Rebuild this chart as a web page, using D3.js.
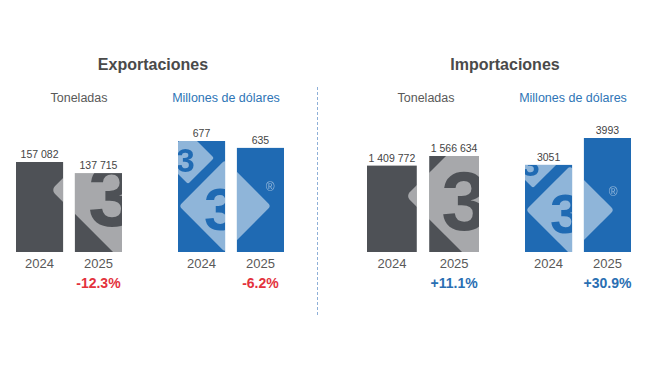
<!DOCTYPE html>
<html>
<head>
<meta charset="utf-8">
<script src="https://cdn.jsdelivr.net/npm/d3@7"></script>
<style>
  html, body { margin: 0; padding: 0; background: #ffffff; }
  svg { display: block; font-family: "Liberation Sans", Arial, sans-serif; }
</style>
</head>
<body>
<div id="chart"></div>
<script>
// ---- data ----
const groups = ["Exportaciones", "Importaciones"];
const units = ["Toneladas", "Millones de dólares"];
const years = ["2024", "2025"];
const expTons = [157082, 137715];
const expUsd = [677, 635];
const impTons = [1409772, 1566634];
const impUsd = [3051, 3993];
const changes = ["-12.3%", "-6.2%", "+11.1%", "+30.9%"];

// ---- styles ----
const W = 650, H = 366;
const GRAY = "#4e5156", BLUE = "#1f6ab3", RED = "#e3323d", CHANGE_BLUE = "#2a6fb3";
const TXT = "#595959", VAL = "#444444", TITLE = "#4a4a4a", UNIT_BLUE = "#2e75b6";
const baseY = 252;

const panels = [
  { values: expTons, unit: 0, change: changes[0], x0: 16, x1: 122, maxPx: 90, color: GRAY, changeColor: RED, unitX: 79,
    wm: [{ dx: 103, dy: -62, h: 68, reg: false }] },
  { values: expUsd, unit: 1, change: changes[1], x0: 178, x1: 284, maxPx: 111, color: BLUE, changeColor: RED, unitX: 226,
    wm: [{ dx: 47, dy: -46, h: 46, reg: true }, { dx: 10, dy: -94, h: 26, reg: false }] },
  { values: impTons, unit: 0, change: changes[2], x0: 367, x1: 479, maxPx: 96, color: GRAY, changeColor: CHANGE_BLUE, unitX: 426,
    wm: [{ dx: 104, dy: -56, h: 65, reg: false }] },
  { values: impUsd, unit: 1, change: changes[3], x0: 525, x1: 631, maxPx: 114, color: BLUE, changeColor: CHANGE_BLUE, unitX: 573,
    wm: [{ dx: 45, dy: -42, h: 44, reg: true }, { dx: 8, dy: -90, h: 26, reg: false }] }
];
const titleX = [153, 505];

const fmt = v => v >= 10000 ? d3.format(",")(v).replace(/,/g, " ") : String(v);

const svg = d3.select("#chart").append("svg").attr("width", W).attr("height", H);
svg.append("rect").attr("width", W).attr("height", H).attr("fill", "#fff");
const defs = svg.append("defs");

// titles
svg.selectAll("text.title").data(groups).join("text")
  .attr("class", "title")
  .attr("x", (d, i) => titleX[i]).attr("y", 70)
  .attr("text-anchor", "middle")
  .attr("font-size", 16).attr("font-weight", "bold").attr("fill", TITLE)
  .text(d => d);

// divider
svg.append("line").attr("x1", 317.5).attr("x2", 317.5).attr("y1", 87).attr("y2", 317)
  .attr("stroke", "#8fb0d8").attr("stroke-width", 1).attr("stroke-dasharray", "3,2");

panels.forEach((p, pi) => {
  const x = d3.scaleBand().domain(years).range([p.x0, p.x1]).paddingInner(0.2).paddingOuter(0);
  const y = d3.scaleLinear().domain([0, d3.max(p.values)]).range([baseY, baseY - p.maxPx]);
  const data = years.map((yr, i) => ({ yr, v: p.values[i] }));
  const g = svg.append("g");

  // unit subtitle
  g.append("text").attr("x", p.unitX).attr("y", 102).attr("text-anchor", "middle")
    .attr("font-size", 12.5).attr("fill", p.unit === 0 ? TXT : UNIT_BLUE)
    .text(units[p.unit]);

  // bars
  g.selectAll("rect.bar").data(data).join("rect")
    .attr("class", "bar")
    .attr("x", d => x(d.yr)).attr("width", x.bandwidth())
    .attr("y", d => y(d.v)).attr("height", d => y(0) - y(d.v))
    .attr("fill", p.color);

  // clip for watermark
  const clip = defs.append("clipPath").attr("id", "clip" + pi);
  clip.selectAll("rect").data(data).join("rect")
    .attr("x", d => x(d.yr)).attr("width", x.bandwidth())
    .attr("y", d => y(d.v)).attr("height", d => y(0) - y(d.v));

  // watermark mask
  const mask = defs.append("mask").attr("id", "mask" + pi)
    .attr("maskUnits", "userSpaceOnUse").attr("x", 0).attr("y", 0).attr("width", W).attr("height", H);
  mask.append("rect").attr("width", W).attr("height", H).attr("fill", "black");
  p.wm.forEach(w => {
    const cx = p.x0 + w.dx, cy = baseY + w.dy, s = w.h * Math.SQRT2;
    mask.append("rect")
      .attr("x", -s / 2).attr("y", -s / 2).attr("width", s).attr("height", s)
      .attr("rx", w.h * 0.08)
      .attr("transform", `translate(${cx},${cy}) rotate(45)`)
      .attr("fill", "white");
    const fs = w.h * 1.28;
    mask.append("text")
      .attr("x", cx - w.h * 0.1).attr("y", cy + w.h * 0.07 + fs * 0.358)
      .attr("text-anchor", "middle").attr("font-size", fs).attr("font-weight", "bold")
      .attr("font-family", "'Liberation Sans', Arial, sans-serif")
      .attr("fill", "black").text("3");
    if (w.reg) {
      mask.append("text")
        .attr("x", cx + w.h * 0.98).attr("y", cy - w.h * 0.42 + 4)
        .attr("text-anchor", "middle").attr("font-size", 12)
        .attr("fill", "white").text("®");
    }
  });
  g.append("rect").attr("width", W).attr("height", H)
    .attr("fill", "white").attr("fill-opacity", 0.5)
    .attr("mask", `url(#mask${pi})`).attr("clip-path", `url(#clip${pi})`);

  // value labels
  g.selectAll("text.val").data(data).join("text")
    .attr("class", "val")
    .attr("x", d => x(d.yr) + x.bandwidth() / 2).attr("y", d => y(d.v) - 4)
    .attr("text-anchor", "middle").attr("font-size", 10.5).attr("fill", VAL)
    .text(d => fmt(d.v));

  // axis (year labels)
  const axis = d3.axisBottom(x).tickSize(0).tickPadding(7);
  const ag = g.append("g").attr("transform", `translate(0,${baseY})`).call(axis);
  ag.select(".domain").remove();
  ag.selectAll("text").attr("font-size", 13).attr("fill", TXT)
    .attr("font-family", "'Liberation Sans', Arial, sans-serif");

  // change label
  g.append("text")
    .attr("x", x(years[1]) + x.bandwidth() / 2).attr("y", 288)
    .attr("text-anchor", "middle").attr("font-size", 14).attr("font-weight", "bold")
    .attr("fill", p.changeColor).text(p.change);
});
</script>
</body>
</html>
